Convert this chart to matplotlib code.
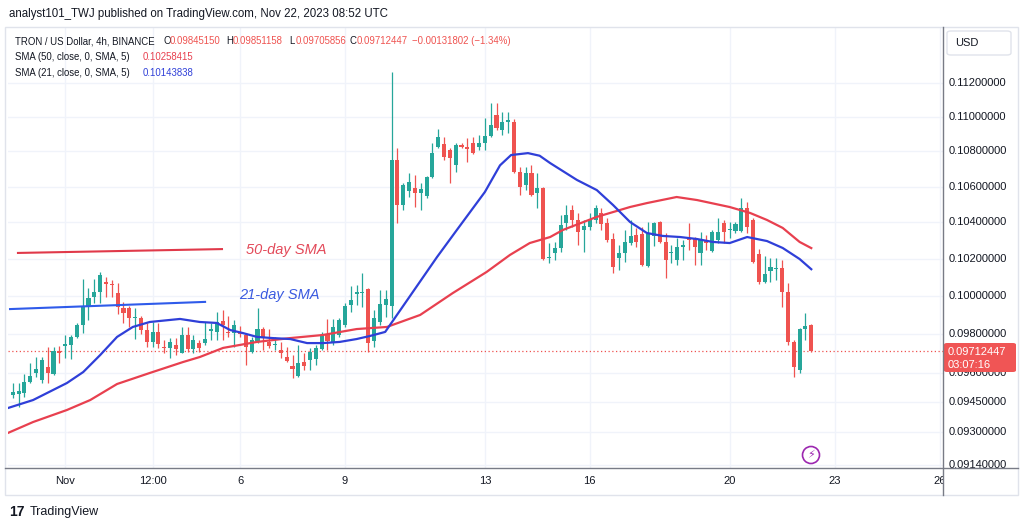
import matplotlib
matplotlib.use('Agg')
import matplotlib.pyplot as plt
from matplotlib.patches import Rectangle, FancyBboxPatch, Ellipse
from matplotlib.lines import Line2D
from matplotlib.transforms import blended_transform_factory
import numpy as np

plt.rcParams['font.family'] = ['Liberation Sans', 'DejaVu Sans']

# TRX/USD 4h candles, Oct 30 12:00 -> Nov 22 08:00
opens = [0.09487, 0.09492, 0.09497, 0.09553, 0.09599, 0.09563, 0.09630, 0.09594, 0.09712, 0.09738,
         0.09743, 0.09785, 0.09847, 0.09942, 0.09995, 0.10022, 0.10075, 0.10064, 0.10016, 0.09937,
         0.09937, 0.09884, 0.09884, 0.09821, 0.09759, 0.09811, 0.09733, 0.09728, 0.09743, 0.09702,
         0.09795, 0.09722, 0.09753, 0.09753, 0.09816, 0.09811, 0.09868, 0.09811, 0.09805, 0.09805,
         0.09795, 0.09707, 0.09764, 0.09826, 0.09759, 0.09743, 0.09717, 0.09681, 0.09635, 0.09584,
         0.09655, 0.09666, 0.09671, 0.09722, 0.09800, 0.09753, 0.09795, 0.09847, 0.09953, 0.10011,
         0.10016, 0.10038, 0.09764, 0.09863, 0.09953, 0.09947, 0.10751, 0.10496, 0.10575, 0.10592,
         0.10564, 0.10547, 0.10654, 0.10825, 0.10842, 0.10808, 0.10722, 0.10837, 0.10825, 0.10848,
         0.10825, 0.10848, 0.10889, 0.11011, 0.10924, 0.10970, 0.10970, 0.10682, 0.10609, 0.10677,
         0.10564, 0.10592, 0.10205, 0.10232, 0.10259, 0.10396, 0.10468, 0.10413, 0.10358, 0.10374,
         0.10413, 0.10452, 0.10396, 0.10308, 0.10205, 0.10232, 0.10286, 0.10330, 0.10336, 0.10161,
         0.10325, 0.10402, 0.10292, 0.10232, 0.10194, 0.10264, 0.10314, 0.10314, 0.10232, 0.10303,
         0.10243, 0.10303, 0.10396, 0.10358, 0.10352, 0.10352, 0.10480, 0.10413, 0.10226, 0.10075,
         0.10134, 0.10145, 0.10150, 0.10022, 0.09759, 0.09614, 0.09826, 0.09845150]
highs = [0.09548, 0.09548, 0.09594, 0.09650, 0.09681, 0.09681, 0.09733, 0.09733, 0.09738, 0.09795,
         0.09795, 0.09858, 0.10091, 0.10043, 0.10091, 0.10129, 0.10102, 0.10086, 0.10070, 0.09969,
         0.09947, 0.09937, 0.09895, 0.09858, 0.09863, 0.09858, 0.09769, 0.09779, 0.09779, 0.09837,
         0.09837, 0.09795, 0.09769, 0.09863, 0.09858, 0.09916, 0.09926, 0.09895, 0.09874, 0.09842,
         0.09805, 0.09785, 0.09937, 0.09837, 0.09826, 0.09785, 0.09759, 0.09733, 0.09691, 0.09743,
         0.09702, 0.09728, 0.09743, 0.09811, 0.09879, 0.09879, 0.09884, 0.09963, 0.10054, 0.10059,
         0.10123, 0.10043, 0.09926, 0.10032, 0.10032, 0.11266, 0.10819, 0.10620, 0.10677, 0.10665,
         0.10620, 0.10660, 0.10848, 0.10929, 0.10883, 0.10819, 0.10848, 0.10848, 0.10877, 0.10883,
         0.10895, 0.10993, 0.11082, 0.11082, 0.11029, 0.11029, 0.10988, 0.10711, 0.10711, 0.10722,
         0.10677, 0.10597, 0.10286, 0.10292, 0.10441, 0.10496, 0.10496, 0.10452, 0.10413, 0.10452,
         0.10496, 0.10480, 0.10424, 0.10341, 0.10275, 0.10358, 0.10413, 0.10369, 0.10374, 0.10402,
         0.10402, 0.10407, 0.10341, 0.10275, 0.10314, 0.10303, 0.10396, 0.10319, 0.10347, 0.10330,
         0.10358, 0.10424, 0.10413, 0.10402, 0.10402, 0.10536, 0.10513, 0.10424, 0.10253, 0.10215,
         0.10205, 0.10205, 0.10194, 0.10070, 0.09769, 0.09832, 0.09910, 0.09851158]
lows = [0.09472, 0.09427, 0.09477, 0.09548, 0.09579, 0.09548, 0.09548, 0.09589, 0.09650, 0.09676,
        0.09671, 0.09779, 0.09805, 0.09874, 0.09963, 0.09963, 0.09995, 0.09995, 0.09905, 0.09858,
        0.09837, 0.09774, 0.09800, 0.09733, 0.09733, 0.09728, 0.09702, 0.09676, 0.09691, 0.09702,
        0.09707, 0.09702, 0.09707, 0.09743, 0.09769, 0.09769, 0.09769, 0.09785, 0.09733, 0.09785,
        0.09640, 0.09702, 0.09753, 0.09717, 0.09728, 0.09717, 0.09676, 0.09655, 0.09573, 0.09579,
        0.09614, 0.09614, 0.09640, 0.09717, 0.09717, 0.09743, 0.09785, 0.09837, 0.09916, 0.09953,
        0.09942, 0.09707, 0.09733, 0.09847, 0.09889, 0.09884, 0.10396, 0.10468, 0.10541, 0.10485,
        0.10468, 0.10536, 0.10648, 0.10819, 0.10751, 0.10620, 0.10682, 0.10819, 0.10739, 0.10785,
        0.10808, 0.10808, 0.10883, 0.10924, 0.10895, 0.10906, 0.10677, 0.10552, 0.10580, 0.10547,
        0.10480, 0.10194, 0.10177, 0.10194, 0.10237, 0.10358, 0.10374, 0.10275, 0.10237, 0.10358,
        0.10396, 0.10358, 0.10292, 0.10123, 0.10140, 0.10183, 0.10275, 0.10264, 0.10161, 0.10156,
        0.10270, 0.10286, 0.10097, 0.10177, 0.10167, 0.10194, 0.10248, 0.10167, 0.10167, 0.10248,
        0.10237, 0.10286, 0.10286, 0.10314, 0.10341, 0.10347, 0.10341, 0.10177, 0.10064, 0.10070,
        0.10075, 0.10086, 0.09942, 0.09743, 0.09579, 0.09599, 0.09769, 0.09705856]
closes = [0.09503, 0.09508, 0.09553, 0.09584, 0.09619, 0.09666, 0.09599, 0.09712, 0.09702, 0.09748,
          0.09785, 0.09847, 0.09942, 0.09990, 0.10022, 0.10113, 0.10064, 0.10059, 0.09942, 0.09910,
          0.09884, 0.09889, 0.09821, 0.09759, 0.09811, 0.09748, 0.09728, 0.09759, 0.09722, 0.09795,
          0.09722, 0.09769, 0.09728, 0.09774, 0.09826, 0.09863, 0.09847, 0.09805, 0.09847, 0.09800,
          0.09733, 0.09769, 0.09826, 0.09785, 0.09738, 0.09748, 0.09702, 0.09660, 0.09619, 0.09650,
          0.09635, 0.09707, 0.09728, 0.09790, 0.09764, 0.09837, 0.09874, 0.09947, 0.09979, 0.10022,
          0.10022, 0.09753, 0.09884, 0.09958, 0.09984, 0.10751, 0.10496, 0.10609, 0.10625, 0.10564,
          0.10586, 0.10654, 0.10791, 0.10883, 0.10768, 0.10762, 0.10837, 0.10825, 0.10814, 0.10791,
          0.10848, 0.10889, 0.10953, 0.10935, 0.10970, 0.10982, 0.10682, 0.10597, 0.10677, 0.10552,
          0.10592, 0.10199, 0.10210, 0.10259, 0.10385, 0.10441, 0.10413, 0.10347, 0.10380, 0.10418,
          0.10480, 0.10391, 0.10303, 0.10156, 0.10232, 0.10292, 0.10325, 0.10292, 0.10167, 0.10336,
          0.10396, 0.10292, 0.10194, 0.10237, 0.10264, 0.10275, 0.10303, 0.10264, 0.10303, 0.10286,
          0.10347, 0.10347, 0.10347, 0.10363, 0.10391, 0.10480, 0.10374, 0.10183, 0.10075, 0.10118,
          0.10156, 0.10150, 0.10022, 0.09759, 0.09630, 0.09826, 0.09842, 0.09712447]

# moving averages, sampled along the drawn lines (candle index, value)
sma21_pos = [-0.8, 3.5, 9.3, 12.1, 15.0, 17.9, 20.6, 23.5, 28.7, 32.1, 35.0, 37.3, 39.5, 41.9, 44.6,
             47.6, 50.5, 53.2, 56.1, 59.0, 61.3, 63.9, 72.8, 76.2, 81.0, 83.6, 85.5, 88.4, 90.4, 92.2,
             96.8, 100.2, 103.0, 105.9, 108.8, 111.5, 114.5, 117.4, 120.1, 123.0, 126.0, 129.4,
             132.1, 135.0, 137.0]
sma21_val = [0.09422, 0.09462, 0.09548, 0.09604, 0.09691, 0.09785, 0.09837, 0.09863, 0.09879, 0.09863,
             0.09858, 0.09821, 0.09805, 0.09785, 0.09779, 0.09774, 0.09753, 0.09753, 0.09759, 0.09774,
             0.09790, 0.09811, 0.10210, 0.10358, 0.10569, 0.10720, 0.10779, 0.10790, 0.10775, 0.10733,
             0.10637, 0.10580, 0.10496, 0.10402, 0.10341, 0.10325, 0.10319, 0.10308, 0.10292, 0.10286,
             0.10319, 0.10297, 0.10259, 0.10199, 0.10143838]
sma50_pos = [-0.8, 3.5, 9.3, 13.3, 17.9, 23.5, 29.2, 32.1, 36.1, 41.9, 47.6, 53.2, 59.0, 64.2, 69.9,
             75.5, 81.3, 85.3, 88.7, 92.2, 94.4, 100.2, 105.9, 108.8, 113.9, 117.4, 123.0, 126.5,
             129.4, 132.1, 135.0, 137.0]
sma50_val = [0.09298, 0.09352, 0.09412, 0.09462, 0.09543, 0.09599, 0.09655, 0.09681, 0.09728, 0.09759,
             0.09779, 0.09795, 0.09826, 0.09837, 0.09900, 0.10016, 0.10129, 0.10221, 0.10286, 0.10319,
             0.10358, 0.10430, 0.10485, 0.10507, 0.10541, 0.10524, 0.10485, 0.10452, 0.10413, 0.10369,
             0.10292, 0.10258415]

# hand-drawn trend lines with their labels
ann50_pos = [0.9, 35.9]
ann50_val = [0.10232, 0.10253]
ann21_pos = [-0.46, 33.0]
ann21_val = [0.09931, 0.09969]

xtick_pos = [9, 24, 39, 57, 81, 99, 123, 141, 159]
xtick_labels = ['Nov', '12:00', '6', '9', '13', '16', '20', '23', '26']
ytick_vals = [0.112, 0.110, 0.108, 0.106, 0.104, 0.102, 0.100, 0.098, 0.096, 0.0945, 0.093, 0.0914]

last_price = 0.09712447

TEAL = '#26a69a'
RED = '#ef5350'
SMA50_C = '#e8404f'
SMA21_C = '#2f3fd8'
TXT = '#131722'

W, H = 1024, 529


def P(x, y):
    # pixel position -> figure fraction
    return x / W, 1 - y / H


fig = plt.figure(figsize=(W / 100, H / 100), dpi=100)
fig.patch.set_facecolor('white')

ax = fig.add_axes([8 / W, 1 - 468 / H, 935 / W, 440 / H])
ax.set_yscale('log')
ax.set_xlim(-0.81, 159.6)
ax.set_ylim(0.09126, 0.115325)
for s in ax.spines.values():
    s.set_visible(False)

ax.set_yticks(ytick_vals)
ax.yaxis.set_minor_locator(matplotlib.ticker.NullLocator())
ax.set_xticks(xtick_pos)
ax.set_xticklabels(xtick_labels)
ax.tick_params(axis='y', length=0, labelleft=False)
ax.tick_params(axis='x', length=0, labelsize=8, labelcolor=TXT, pad=6)
ax.grid(True, color='#f0f3fa', lw=1, zorder=0)
ax.set_axisbelow(True)

# candles
o = np.array(opens)
h = np.array(highs)
l = np.array(lows)
c = np.array(closes)
idx = np.arange(len(c))
cols = np.where(c >= o, TEAL, RED)
ax.vlines(idx, l, h, colors=cols, lw=0.9, zorder=3)
ax.bar(idx, np.maximum(np.abs(c - o), 0.00002), bottom=np.minimum(o, c),
       width=0.7, color=cols, linewidth=0, zorder=4)

# moving averages
ax.plot(sma50_pos, sma50_val, color=SMA50_C, lw=1.6, zorder=5, solid_joinstyle='round')
ax.plot(sma21_pos, sma21_val, color=SMA21_C, lw=1.6, zorder=5, solid_joinstyle='round')

# drawings
ax.plot(ann50_pos, ann50_val, color='#e0394a', lw=1.5, zorder=5)
ax.text(40, 0.10248, '50-day SMA', color='#e34a5a', fontsize=10.5, style='italic',
        va='center', ha='left')
ax.plot(ann21_pos, ann21_val, color='#2f5bea', lw=1.5, zorder=5)
ax.text(38.8, 0.10006, '21-day SMA', color='#3a5ae0', fontsize=10.5, style='italic',
        va='center', ha='left')

# last price line
ax.axhline(last_price, color=RED, ls=(0, (1, 2)), lw=0.9, zorder=2)

# events icon
fig.patches.append(Ellipse(P(811, 455), 17 / W, 17 / H, transform=fig.transFigure,
                           facecolor='white', edgecolor='#9c27b0', lw=1.2, zorder=3))
fig.text(*P(811, 455), '⚡', color='#9c27b0', fontsize=8, ha='center', va='center',
         family=['DejaVu Sans'], zorder=4)

# price scale
tr = blended_transform_factory(fig.transFigure, ax.transData)
for v in ytick_vals:
    fig.text(949 / W, v, '%.8f' % v, transform=tr, fontsize=8, color=TXT, va='center', zorder=3)

fig.patches.append(Rectangle(P(944, 494), 73 / W, 25 / H, transform=fig.transFigure,
                             facecolor='white', edgecolor='none', zorder=2))
fig.patches.append(FancyBboxPatch(P(947, 55), 64 / W, 24 / H, transform=fig.transFigure,
                                  boxstyle='round,pad=0,rounding_size=0.004',
                                  facecolor='white', edgecolor='#e0e3eb', lw=1, zorder=3))
fig.text(*P(955, 43), 'USD', fontsize=8, color=TXT, va='center', zorder=4)

# last price tag (it hides most of the 0.096 label, as in the original)
fig.patches.append(FancyBboxPatch(P(944, 372), 72 / W, 29 / H, transform=fig.transFigure,
                                  boxstyle='round,pad=0,rounding_size=0.003',
                                  facecolor='#f05555', edgecolor='none', zorder=4))
fig.text(*P(948, 352), '0.09712447', fontsize=8, color='white', va='center', zorder=5)
fig.text(*P(948, 365), '03:07:16', fontsize=8, color='white', va='center', zorder=5)

# frame
fig.patches.append(Rectangle(P(5, 495), 1013 / W, 468 / H, transform=fig.transFigure,
                             facecolor='none', edgecolor='#e0e3eb', lw=1, zorder=1))
fig.lines.append(Line2D([943 / W, 943 / W], [1 - 27 / H, 1 - 495 / H], transform=fig.transFigure,
                        color='#787b86', lw=1, zorder=6))
fig.lines.append(Line2D([5 / W, 1018 / W], [1 - 468 / H, 1 - 468 / H], transform=fig.transFigure,
                        color='#787b86', lw=1, zorder=6))

# header
fig.text(*P(9, 14), 'analyst101_TWJ published on TradingView.com, Nov 22, 2023 08:52 UTC',
         fontsize=8.3, color=TXT, va='center')
fs = 6.9
fig.text(*P(15, 41), 'TRON / US Dollar, 4h, BINANCE', fontsize=fs, color=TXT, va='center')
for lx, lab, val in [(163, 'O', '0.09845150'), (226, 'H', '0.09851158'),
                     (289, 'L', '0.09705856'), (350, 'C', '0.09712447')]:
    fig.text(*P(lx, 41), lab, fontsize=fs, color=TXT, va='center')
    fig.text(*P(lx + 6.5, 41), val, fontsize=fs, color=RED, va='center')
fig.text(*P(412, 41), '\u22120.00131802 (\u22121.34%)', fontsize=fs, color=RED, va='center')
fig.text(*P(15, 57), 'SMA (50, close, 0, SMA, 5)', fontsize=fs, color=TXT, va='center')
fig.text(*P(143, 57), '0.10258415', fontsize=fs, color=SMA50_C, va='center')
fig.text(*P(15, 73), 'SMA (21, close, 0, SMA, 5)', fontsize=fs, color=TXT, va='center')
fig.text(*P(143, 73), '0.10143838', fontsize=fs, color=SMA21_C, va='center')

# footer logo
fig.text(*P(9, 512), '17', fontsize=10, weight='bold', color=TXT, va='center')
fig.text(*P(30, 512), 'TradingView', fontsize=9, color=TXT, va='center')

fig.savefig('out.png', dpi=100, facecolor='white')
